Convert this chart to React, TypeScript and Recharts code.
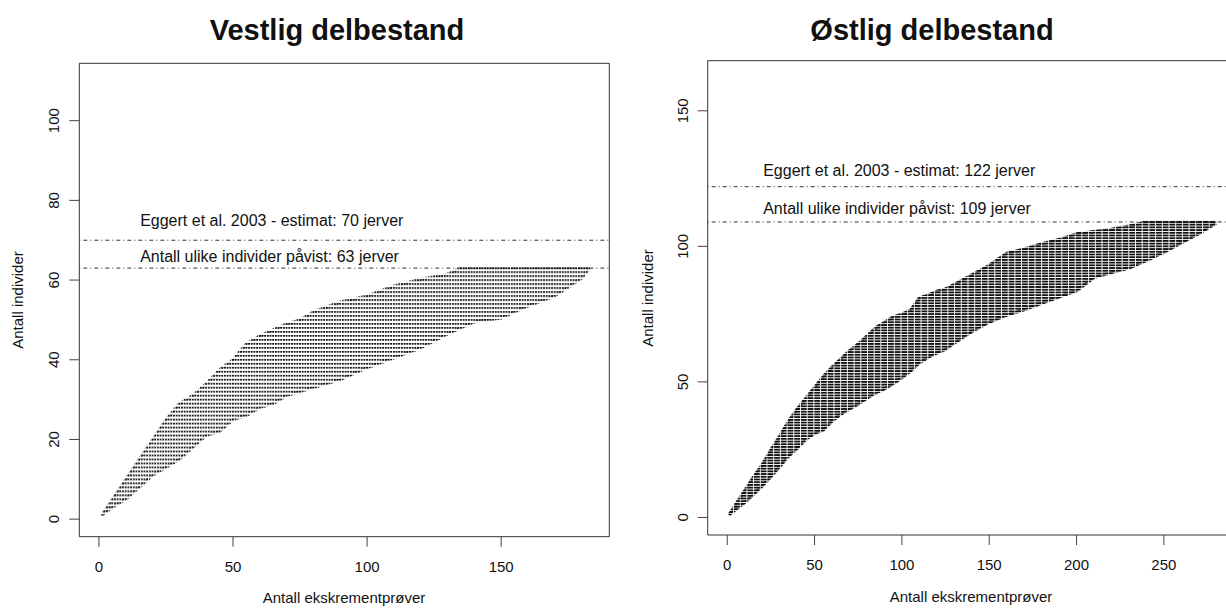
import React from 'react';
import { ComposedChart, Area, XAxis, YAxis, ReferenceLine, ReferenceArea, ReferenceDot } from 'recharts';

const FONT = '"Liberation Sans", Arial, Helvetica, sans-serif';

// ---------- Vestlig delbestand (left panel) ----------
const westSamples = [1, 5, 10, 15, 20, 25, 30, 35, 40, 45, 50, 55, 60, 65, 70, 75, 80, 90, 100, 110, 120, 130, 135, 140, 150, 160, 170, 180, 183];
const westMax = [1, 5, 10, 15, 20, 25, 29, 31, 34, 37.5, 40, 44, 46, 47.5, 49, 50, 52, 54.5, 56, 58.5, 60.2, 61.5, 63, 63, 63, 63, 63, 63, 63];
const westMin = [1, 3, 5, 8, 11, 13, 15, 18, 21, 22, 25, 26, 28, 29, 31, 32, 33, 35, 38, 40.5, 43, 46.5, 48, 49.5, 50.5, 53.5, 56, 60.5, 63];
const westXTicks = [0, 50, 100, 150];
const westYTicks = [0, 20, 40, 60, 80, 100];
const westXLim = [0, 183];
const westYLim = [0, 110];
const westEstimate = 70;
const westObserved = 63;
const westLabelX = 15;
const westEstimateLabelY = 75;
const westObservedLabelY = 66;
const westEstimateText = 'Eggert et al. 2003 - estimat: 70 jerver';
const westObservedText = 'Antall ulike individer påvist: 63 jerver';
const westTitle = 'Vestlig delbestand';

// ---------- Østlig delbestand (right panel) ----------
const eastSamples = [1, 5, 10, 15, 20, 25, 30, 35, 40, 45, 50, 55, 60, 65, 70, 75, 80, 85, 90, 95, 100, 105, 110, 115, 120, 125, 130, 140, 150, 160, 170, 180, 190, 200, 210, 220, 230, 240, 250, 260, 270, 280];
const eastMax = [1, 5, 10, 15, 19.5, 25, 30, 35.5, 40, 44, 48, 52, 55.5, 58.5, 61.5, 64, 67, 70, 72, 74, 75, 76.5, 81, 82, 83.5, 84.3, 86, 89.5, 93, 97.5, 99, 101, 102.5, 104.7, 105.5, 106.3, 107.5, 109, 109, 109, 109, 109];
const eastMin = [1, 3, 5.5, 8.5, 11.5, 15, 18.7, 22.5, 25.5, 28.8, 31, 32.2, 35.5, 38, 40, 41.8, 44, 45.8, 47.4, 49.2, 51.5, 54, 57, 59, 60.6, 62, 64.3, 68.5, 72, 74.6, 76.6, 79, 81.3, 83.6, 88.5, 90.3, 92, 94.7, 97.8, 101.3, 104.7, 108.5];
const eastXTicks = [0, 50, 100, 150, 200, 250];
const eastYTicks = [0, 50, 100, 150];
const eastXLim = [0, 280];
const eastYLim = [0, 162];
const eastEstimate = 122;
const eastObserved = 109;
const eastLabelX = 20;
const eastEstimateLabelY = 128;
const eastObservedLabelY = 114;
const eastEstimateText = 'Eggert et al. 2003 - estimat: 122 jerver';
const eastObservedText = 'Antall ulike individer påvist: 109 jerver';
const eastTitle = 'Østlig delbestand';

const xLabel = 'Antall ekskrementprøver';
const yLabel = 'Antall individer';

const pad = (lim: number[]) => {
  const r = lim[1] - lim[0];
  return [lim[0] - 0.04 * r, lim[1] + 0.04 * r];
};

type PanelProps = {
  id: string;
  left: number;
  width: number;
  height: number;
  plotLeft: number;
  plotTop: number;
  plotRight: number;
  plotBottom: number;
  samples: number[];
  mins: number[];
  maxs: number[];
  xLim: number[];
  yLim: number[];
  xTicks: number[];
  yTicks: number[];
  estimate: number;
  observed: number;
  labelX: number;
  estimateLabelY: number;
  observedLabelY: number;
  estimateText: string;
  observedText: string;
  dense: boolean;
  yTickGap: number;
};

const Panel = (p: PanelProps) => {
  const data = p.samples.map((s, i) => ({ x: s, range: [p.mins[i], p.maxs[i]] }));
  const xd = pad(p.xLim);
  const yd = pad(p.yLim);
  const plotW = p.plotRight - p.plotLeft;
  const plotH = p.plotBottom - p.plotTop;
  const xStep = plotW / (xd[1] - xd[0]);
  const yStep = plotH / (yd[1] - yd[0]);
  const x0 = p.plotLeft + (0 - xd[0]) * xStep;
  const y0 = p.plotBottom - (0 - yd[0]) * yStep;
  const xAxisH = 60;
  const margin = {
    top: p.plotTop,
    right: p.width - p.plotRight,
    bottom: p.height - p.plotBottom - xAxisH,
    left: 0,
  };
  const patId = `pat-${p.id}`;
  const dotW = p.dense ? 5.8 : 1.9;
  const dotH = p.dense ? 1.8 : 1.7;
  const tileW = p.dense ? 6.7 : xStep;

  const XTick = (t: any) => (
    <text x={t.x} y={t.y + 20} dy="0.35em" textAnchor="middle" fontSize={15} fill="#111" fontFamily={FONT}>
      {t.payload.value}
    </text>
  );
  const YTick = (t: any) => {
    const cx = t.x - p.yTickGap;
    return (
      <text x={cx} y={t.y} dy="0.35em" transform={`rotate(-90 ${cx} ${t.y})`} textAnchor="middle" fontSize={15} fill="#111" fontFamily={FONT}>
        {t.payload.value}
      </text>
    );
  };

  const lbl = (value: string) => ({ value, position: 'right' as const, offset: 0, fontSize: 16, fill: '#111', fontFamily: FONT });

  return (
    <div style={{ position: 'absolute', left: p.left, top: 0, width: p.width, height: p.height }}>
      <svg width={0} height={0} style={{ position: 'absolute' }}>
        <defs>
          <pattern id={patId} patternUnits="userSpaceOnUse" x={x0 - (p.dense ? 0 : dotW / 2)} y={y0 - dotH / 2} width={tileW} height={yStep}>
            <rect x={0} y={0} width={dotW} height={dotH} fill="#111" />
          </pattern>
        </defs>
      </svg>
      <ComposedChart width={p.width} height={p.height} data={data} margin={margin}>
        <XAxis
          dataKey="x"
          type="number"
          domain={xd}
          allowDataOverflow
          ticks={p.xTicks}
          interval={0}
          height={xAxisH}
          axisLine={false}
          tickLine={{ stroke: '#444' }}
          tickSize={10}
          tickMargin={0}
          tick={XTick}
        />
        <YAxis
          type="number"
          domain={yd}
          allowDataOverflow
          ticks={p.yTicks}
          interval={0}
          width={p.plotLeft}
          axisLine={false}
          tickLine={{ stroke: '#444' }}
          tickSize={10}
          tickMargin={0}
          tick={YTick}
        />
        <Area
          dataKey="range"
          type="linear"
          fill={`url(#${patId})`}
          fillOpacity={1}
          stroke={`url(#${patId})`}
          strokeWidth={3}
          isAnimationActive={false}
          dot={false}
          activeDot={false}
        />
        <ReferenceLine y={p.estimate} stroke="#333" strokeWidth={1} strokeDasharray="1 3 4 3" />
        <ReferenceLine y={p.observed} stroke="#333" strokeWidth={1} strokeDasharray="1 3 4 3" />
        <ReferenceDot x={p.labelX} y={p.estimateLabelY} r={1} fill="none" stroke="none" label={lbl(p.estimateText)} />
        <ReferenceDot x={p.labelX} y={p.observedLabelY} r={1} fill="none" stroke="none" label={lbl(p.observedText)} />
        <ReferenceArea x1={xd[0]} x2={xd[1]} y1={yd[0]} y2={yd[1]} fill="none" fillOpacity={0} stroke="#333" strokeWidth={1} />
      </ComposedChart>
    </div>
  );
};

export default function App() {
  return (
    <div style={{ position: 'fixed', left: 0, top: 0, width: 1226, height: 609, overflow: 'hidden', background: '#fff' }}>
      <Panel
        id="west"
        left={0}
        width={613}
        height={609}
        plotLeft={79.3}
        plotTop={63.3}
        plotRight={609.3}
        plotBottom={536.7}
        samples={westSamples}
        mins={westMin}
        maxs={westMax}
        xLim={westXLim}
        yLim={westYLim}
        xTicks={westXTicks}
        yTicks={westYTicks}
        estimate={westEstimate}
        observed={westObserved}
        labelX={westLabelX}
        estimateLabelY={westEstimateLabelY}
        observedLabelY={westObservedLabelY}
        estimateText={westEstimateText}
        observedText={westObservedText}
        dense={false}
        yTickGap={16}
      />
      <Panel
        id="east"
        left={613}
        width={630}
        height={609}
        plotLeft={94.7}
        plotTop={60.7}
        plotRight={622.8}
        plotBottom={535}
        samples={eastSamples}
        mins={eastMin}
        maxs={eastMax}
        xLim={eastXLim}
        yLim={eastYLim}
        xTicks={eastXTicks}
        yTicks={eastYTicks}
        estimate={eastEstimate}
        observed={eastObserved}
        labelX={eastLabelX}
        estimateLabelY={eastEstimateLabelY}
        observedLabelY={eastObservedLabelY}
        estimateText={eastEstimateText}
        observedText={eastObservedText}
        dense={true}
        yTickGap={15}
      />
      <svg width={1226} height={609} style={{ position: 'absolute', left: 0, top: 0, pointerEvents: 'none' }}>
        <text x={337} y={40} textAnchor="middle" fontSize={29} fontWeight="bold" fill="#111" fontFamily={FONT}>{westTitle}</text>
        <text x={932} y={40} textAnchor="middle" fontSize={29} fontWeight="bold" fill="#111" fontFamily={FONT}>{eastTitle}</text>
        <text x={18} y={300} dy="0.35em" transform="rotate(-90 18 300)" textAnchor="middle" fontSize={15} fill="#111" fontFamily={FONT}>{yLabel}</text>
        <text x={648} y={298} dy="0.35em" transform="rotate(-90 648 298)" textAnchor="middle" fontSize={15} fill="#111" fontFamily={FONT}>{yLabel}</text>
        <text x={344} y={598} dy="0.35em" textAnchor="middle" fontSize={15} fill="#111" fontFamily={FONT}>{xLabel}</text>
        <text x={971} y={597} dy="0.35em" textAnchor="middle" fontSize={15} fill="#111" fontFamily={FONT}>{xLabel}</text>
      </svg>
    </div>
  );
}
